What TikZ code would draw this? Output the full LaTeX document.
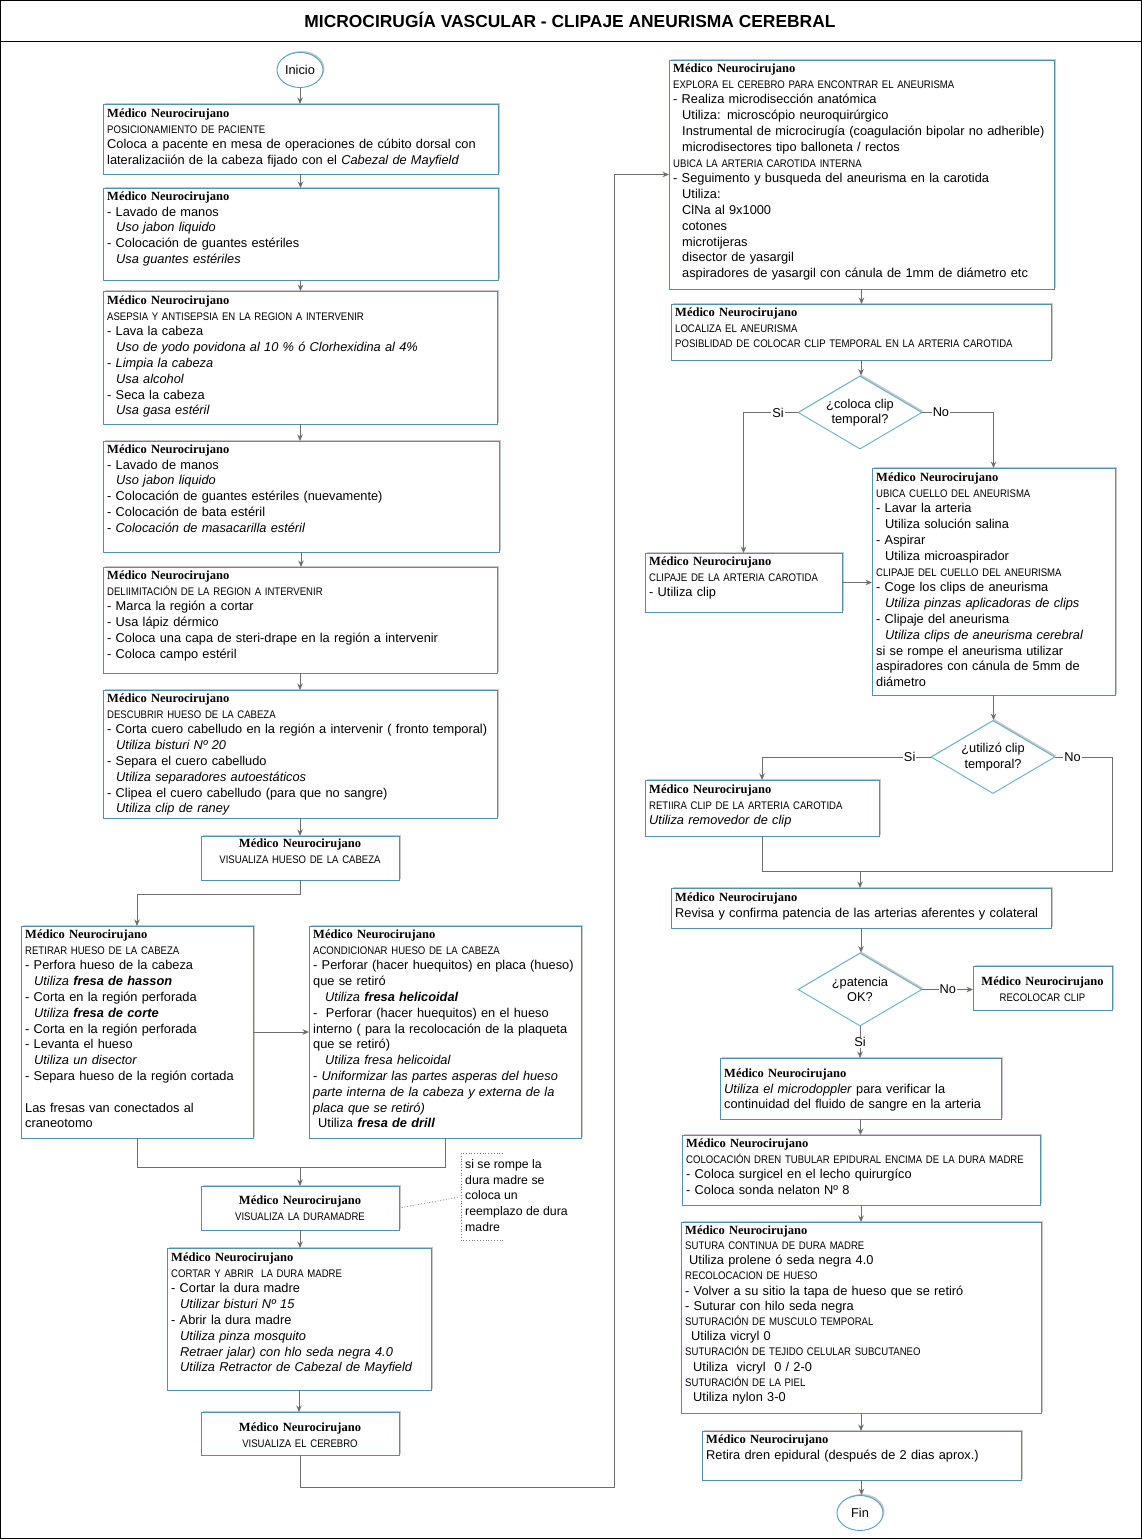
\documentclass[tikz,border=0pt]{standalone}
\usepackage{fontspec}
\usepackage{graphicx}
\setmainfont{Liberation Sans}
\newfontfamily\SerifHdr{Liberation Serif}
\usetikzlibrary{arrows.meta,shapes.geometric,shadows,calc}
\definecolor{boxc}{RGB}{78,148,168}
\definecolor{diac}{RGB}{100,178,198}
\definecolor{ellc}{RGB}{84,160,190}
\definecolor{arrc}{RGB}{110,110,110}
\definecolor{dotc}{RGB}{120,120,120}
\newcommand\MedHdr{{\SerifHdr\bfseries\fontsize{12.5}{15.8}\selectfont Médico Neurocirujano}}
\newcommand\SmCap[1]{\scalebox{0.87}[1]{\fontsize{11}{15.8}\selectfont #1}}
\newcommand\Ind{\hspace*{9pt}}
\tikzset{
  shd/.style={drop shadow={shadow xshift=1.5pt,shadow yshift=1.5pt,fill=black!22,opacity=1}},
  box/.style={rectangle, draw=boxc, line width=0.9pt, fill=white, inner sep=0pt, outer sep=0pt, shd},
  txt/.style={inner sep=0pt, align=left, text width=420pt, font=\fontsize{12.8}{15.8}\selectfont, anchor=north west},
  ctxt/.style={inner sep=0pt, align=center, font=\fontsize{12.8}{15.8}\selectfont, anchor=north},
  ell/.style={ellipse, draw=ellc, line width=0.9pt, fill=white, minimum width=46pt, minimum height=35pt, inner sep=0pt, font=\fontsize{12.8}{15}\selectfont, shd},
  dia/.style={diamond, draw=diac, line width=0.9pt, fill=white, minimum width=124pt, minimum height=73pt, inner sep=0pt, shd},
  dtxt/.style={align=center, inner sep=0pt, font=\fontsize{12.8}{15.5}\selectfont},
  lbl/.style={fill=white, inner sep=1pt, font=\fontsize{12.8}{15}\selectfont},
  arr/.style={draw=arrc, line width=0.8pt, -{Stealth[length=6.5pt,width=5.5pt]}},
  ln/.style={draw=arrc, line width=0.8pt},
  dotln/.style={draw=dotc, line width=0.8pt, dotted},
  notetxt/.style={align=left, inner xsep=4pt, inner ysep=4pt, font=\fontsize{12.3}{15.8}\selectfont, anchor=north west}
}
% #1 text-style opts, #2 name, #3 x, #4 y, #5 w, #6 h, #7 text shift, #8 text
\newcommand\BX[8][]{%
  \node[box, anchor=north west, minimum width=#5pt, minimum height=#6pt] (#2) at (#3,#4) {};
  \node[txt,#1] (#2t) at ([shift={(4,#7)}]#2.north west) {\strut#8};}
% centered: #1 name, #2 x, #3 y, #4 w, #5 h, #6 shift, #7 text
\newcommand\CBX[7]{%
  \node[box, anchor=north west, minimum width=#4pt, minimum height=#5pt] (#1) at (#2,#3) {};
  \node[ctxt, text width=#4pt-4pt] (#1t) at ([shift={(0,#6)}]#1.north) {\strut#7};}
\begin{document}
\begin{tikzpicture}[x=1pt,y=-1pt]
\useasboundingbox (0,0) rectangle (1142,1540);
\fill[white] (0,0) rectangle (1142,1540);
\draw[black, line width=1pt] (0.5,0.5) rectangle (1141.5,1538.5);
\draw[black, line width=1pt] (0.5,41) -- (1141.5,41);
\node[font=\bfseries\fontsize{17.4}{20}\selectfont] (title) at (570,20) {MICROCIRUGÍA VASCULAR - CLIPAJE ANEURISMA CEREBRAL};

% ---------- left column ----------
\node[ell] (ini) at (300,70) {Inicio};

\BX{b1}{103}{104}{395}{70}{2}{\MedHdr\\
\SmCap{POSICIONAMIENTO DE PACIENTE}\\
Coloca a pacente en mesa de operaciones de cúbito dorsal con\\
lateralizaciión de la cabeza fijado con el \textit{Cabezal de Mayfield}}

\BX{b2}{103}{188}{395}{92}{1}{\MedHdr\\
- Lavado de manos\\
\Ind\textit{Uso jabon liquido}\\
- Colocación de guantes estériles\\
\Ind\textit{Usa guantes estériles}}

\BX{b3}{103}{291}{394}{133}{2}{\MedHdr\\
\SmCap{ASEPSIA Y ANTISEPSIA EN LA REGION A INTERVENIR}\\
- Lava la cabeza\\
\Ind\textit{Uso de yodo povidona al 10 \% ó Clorhexidina al 4\%}\\
- \textit{Limpia la cabeza}\\
\Ind\textit{Usa alcohol}\\
- Seca la cabeza\\
\Ind\textit{Usa gasa estéril}}

\BX{b4}{103}{441}{396}{111}{1}{\MedHdr\\
- Lavado de manos\\
\Ind\textit{Uso jabon liquido}\\
- Colocación de guantes estériles (nuevamente)\\
- Colocación de bata estéril\\
- \textit{Colocación de masacarilla estéril}}

\BX{b5}{103}{567}{394}{106}{1}{\MedHdr\\
\SmCap{DELIIMITACIÓN DE LA REGION A INTERVENIR}\\
- Marca la región a cortar\\
- Usa lápiz dérmico\\
- Coloca una capa de steri-drape en la región a intervenir\\
- Coloca campo estéril}

\BX{b6}{103}{690}{394}{128}{1}{\MedHdr\\
\SmCap{DESCUBRIR HUESO DE LA CABEZA}\\
- Corta cuero cabelludo en la región a intervenir ( fronto temporal)\\
\Ind\textit{Utiliza bisturi Nº 20}\\
- Separa el cuero cabelludo\\
\Ind\textit{Utiliza separadores autoestáticos}\\
- Clipea el cuero cabelludo (para que no sangre)\\
\Ind\textit{Utiliza clip de raney}}

\CBX{b7}{201}{836}{198}{44}{0}{\MedHdr\\ \SmCap{VISUALIZA HUESO DE LA CABEZA}}

\BX{b8}{21}{926}{232}{212}{1}{\MedHdr\\
\SmCap{RETIRAR HUESO DE LA CABEZA}\\
- Perfora hueso de la cabeza\\
\Ind\textit{Utiliza \textbf{fresa de hasson}}\\
- Corta en la región perforada\\
\Ind\textit{Utiliza \textbf{fresa de corte}}\\
- Corta en la región perforada\\
- Levanta el hueso\\
\Ind\textit{Utiliza un disector}\\
- Separa hueso de la región cortada\\
\strut\\
Las fresas van conectados al\\
craneotomo}

\BX{b9}{309}{926}{272}{212}{1}{\MedHdr\\
\SmCap{ACONDICIONAR HUESO DE LA CABEZA}\\
- Perforar (hacer huequitos) en placa (hueso)\\
que se retiró\\
\hspace*{12pt}\textit{Utiliza \textbf{fresa helicoidal}}\\
-\ \ Perforar (hacer huequitos) en el hueso\\
interno ( para la recolocación de la plaqueta\\
que se retiró)\\
\hspace*{12pt}\textit{Utiliza fresa helicoidal}\\
- \textit{Uniformizar las partes asperas del hueso}\\
\textit{parte interna de la cabeza y externa de la}\\
\textit{placa que se retiró)}\\
\hspace*{5pt}Utiliza \textit{\textbf{fresa de drill}}}

\CBX{b10}{201}{1186}{198}{44}{7}{\MedHdr\\ \SmCap{VISUALIZA LA DURAMADRE}}

\node[notetxt] (note) at (461,1153) {\strut si se rompe la\\dura madre se\\coloca un\\reemplazo de dura\\madre\strut};

\BX{b11}{167}{1248}{264}{142}{2}{\MedHdr\\
\SmCap{CORTAR Y ABRIR\ \ LA DURA MADRE}\\
- Cortar la dura madre\\
\Ind\textit{Utilizar bisturi Nº 15}\\
- Abrir la dura madre\\
\Ind\textit{Utiliza pinza mosquito}\\
\Ind\textit{Retraer jalar) con hlo seda negra 4.0}\\
\Ind\textit{Utiliza Retractor de Cabezal de Mayfield}}

\CBX{b12}{201}{1412}{198}{43}{8}{\MedHdr\\ \SmCap{VISUALIZA EL CEREBRO}}

% ---------- right column ----------
\BX{b13}{669}{60}{385}{229}{1}{\MedHdr\\
\SmCap{EXPLORA EL CEREBRO PARA ENCONTRAR EL ANEURISMA}\\
- Realiza microdisección anatómica\\
\Ind Utiliza: microscópio neuroquirúrgico\\
\Ind Instrumental de microcirugía (coagulación bipolar no adherible)\\
\Ind microdisectores tipo balloneta / rectos\\
\SmCap{UBICA LA ARTERIA CAROTIDA INTERNA}\\
- Seguimento y busqueda del aneurisma en la carotida\\
\Ind Utiliza:\\
\Ind ClNa al 9x1000\\
\Ind cotones\\
\Ind microtijeras\\
\Ind disector de yasargil\\
\Ind aspiradores de yasargil con cánula de 1mm de diámetro etc}

\BX{b14}{671}{304}{380}{56}{1}{\MedHdr\\
\SmCap{LOCALIZA EL ANEURISMA}\\
\SmCap{POSIBLIDAD DE COLOCAR CLIP TEMPORAL EN LA ARTERIA CAROTIDA}}

\node[dia] (d1) at (860,412.5) {};
\node[dtxt] (d1t) at (d1) {¿coloca clip\\temporal?};

\BX{b15}{645}{553}{197}{59}{1}{\MedHdr\\
\SmCap{CLIPAJE DE LA ARTERIA CAROTIDA}\\
- Utiliza clip}

\BX{b16}{872}{468}{243}{227}{2}{\MedHdr\\
\SmCap{UBICA CUELLO DEL ANEURISMA}\\
- Lavar la arteria\\
\Ind Utiliza solución salina\\
- Aspirar\\
\Ind Utiliza microaspirador\\
\SmCap{CLIPAJE DEL CUELLO DEL ANEURISMA}\\
- Coge los clips de aneurisma\\
\Ind\textit{Utiliza pinzas aplicadoras de clips}\\
- Clipaje del aneurisma\\
\Ind\textit{Utiliza clips de aneurisma cerebral}\\
si se rompe el aneurisma utilizar\\
aspiradores con cánula de 5mm de\\
diámetro}

\node[dia] (d2) at (993,757) {};
\node[dtxt] (d2t) at (d2) {¿utilizó clip\\temporal?};

\BX{b17}{645}{780}{234}{56}{2}{\MedHdr\\
\SmCap{RETIIRA CLIP DE LA ARTERIA CAROTIDA}\\
\textit{Utiliza removedor de clip}}

\BX{b18}{671}{888}{380}{40}{2}{\MedHdr\\
Revisa y confirma patencia de las arterias aferentes y colateral}

\node[dia] (d3) at (860,989.5) {};
\node[dtxt] (d3t) at (d3) {¿patencia\\OK?};

\CBX{b19}{973}{966}{139}{44}{8}{\MedHdr\\ \SmCap{RECOLOCAR CLIP}}

\BX{b20}{720}{1058}{281}{61}{8}{\MedHdr\\
\textit{Utiliza el microdoppler} para verificar la\\
continuidad del fluido de sangre en la arteria}

\BX{b21}{682}{1135}{358}{70}{1}{\MedHdr\\
\SmCap{COLOCACIÓN DREN TUBULAR EPIDURAL ENCIMA DE LA DURA MADRE}\\
- Coloca surgicel en el lecho quirurgíco\\
- Coloca sonda nelaton Nº 8}

\BX[font=\fontsize{12.8}{15.2}\selectfont]{b22}{681}{1222}{360}{191}{1.4}{\MedHdr\\
\SmCap{SUTURA CONTINUA DE DURA MADRE}\\
\hspace*{4pt}Utiliza prolene ó seda negra 4.0\\
\SmCap{RECOLOCACION DE HUESO}\\
- Volver a su sitio la tapa de hueso que se retiró\\
- Suturar con hilo seda negra\\
\SmCap{SUTURACIÓN DE MUSCULO TEMPORAL}\\
\hspace*{6pt}Utiliza vicryl 0\\
\SmCap{SUTURACIÓN DE TEJIDO CELULAR SUBCUTANEO}\\
\hspace*{8pt}Utiliza\ \ vicryl\ \ 0 / 2-0\\
\SmCap{SUTURACIÓN DE LA PIEL}\\
\hspace*{8pt}Utiliza nylon 3-0}

\BX{b23}{702}{1431}{319}{49}{1}{\MedHdr\\
Retira dren epidural (después de 2 dias aprox.)}

\node[ell] (fin) at (860,1513) {Fin};

% ---------- connectors ----------
\draw[arr] (ini.south) -- (ini.south |- b1.north);
\draw[arr] (b1.south) -- (b1.south |- b2.north);
\draw[arr] (b2.south) -- (b2.south |- b3.north);
\draw[arr] (b3.south) -- (b3.south |- b4.north);
\draw[arr] (b4.south) -- (b4.south |- b5.north);
\draw[arr] (b5.south) -- (b5.south |- b6.north);
\draw[arr] (b6.south) -- (b6.south |- b7.north);
\draw[arr] (b7.south) -- ++(0,14) -| (b8.north);
\draw[arr] (b8.east) -- (b8.east -| b9.west);
\coordinate (j1) at (300,1167);
\draw[ln] (b8.south) |- (j1);
\draw[ln] (b9.south) |- (j1);
\draw[arr] (j1) -- (j1 |- b10.north);
\draw[dotln] (b10.east) -- (note.west);
\draw[dotln] ([xshift=42pt]note.north west) -- (note.north west) -- (note.south west) -- ([xshift=42pt]note.south west);
\draw[arr] (b10.south) -- (b10.south |- b11.north);
\draw[arr] (b11.south) -- (b11.south |- b12.north);
\coordinate (c1) at (614,1487);
\draw[arr] (b12.south) |- (c1) |- (b13.west);

\draw[arr] (b13.south) -- (b13.south |- b14.north);
\draw[arr] (b14.south) -- (b14.south |- d1.north);
\draw[arr] (d1.west) -| node[lbl,pos=0.18]{Si} (b15.north);
\draw[arr] (d1.east) -| node[lbl,pos=0.13]{No} (b16.north);
\draw[arr] (b15.east) -- (b15.east -| b16.west);
\draw[arr] (b16.south) -- (b16.south |- d2.north);
\draw[arr] (d2.west) -| node[lbl,pos=0.062]{Si} (b17.north);
\coordinate (j2) at (860,871);
\draw[ln] (d2.east) -- node[lbl,pos=0.3]{No} ++(57,0) |- (j2);
\draw[ln] (b17.south) |- (j2);
\draw[arr] (j2) -- (j2 |- b18.north);
\draw[arr] (b18.south) -- (b18.south |- d3.north);
\draw[arr] (d3.east) -- node[lbl]{No} (d3.east -| b19.west);
\draw[arr] (d3.south) -- node[lbl]{Si} (d3.south |- b20.north);
\draw[arr] (b20.south) -- (b20.south |- b21.north);
\draw[arr] (b21.south) -- (b21.south |- b22.north);
\draw[arr] (b22.south) -- (b22.south |- b23.north);
\draw[arr] (b23.south) -- (b23.south |- fin.north);
\end{tikzpicture}
\end{document}
